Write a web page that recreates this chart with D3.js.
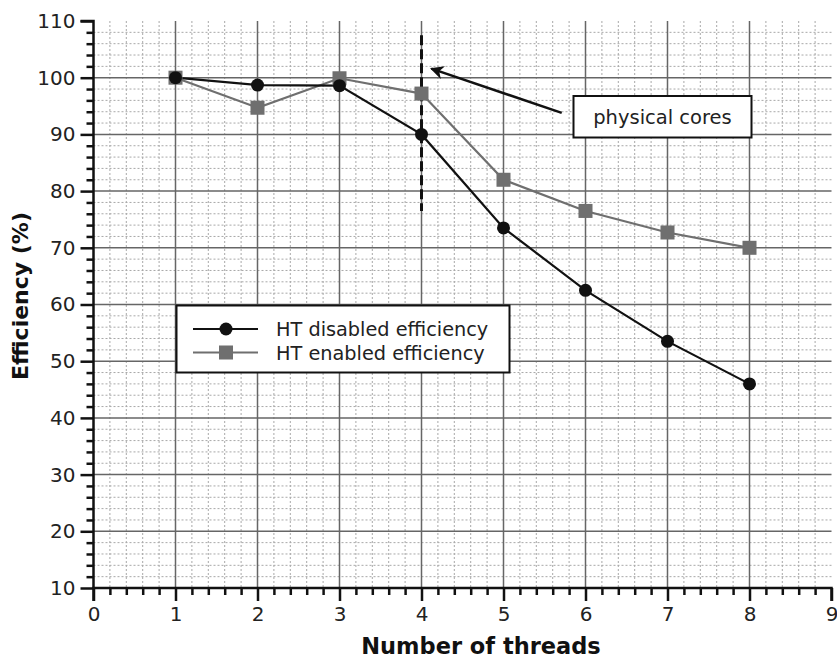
<!DOCTYPE html>
<html>
<head>
<meta charset="utf-8">
<script src="https://cdn.jsdelivr.net/npm/d3@7"></script>
<style>
  body { margin: 0; background: #fff; }
  svg { display: block; font-family: "DejaVu Sans", sans-serif; }
</style>
</head>
<body>
<svg id="chart" width="837" height="661"></svg>
<script>
// ---- data ----
const threads = [1, 2, 3, 4, 5, 6, 7, 8];
const htDisabled = [100, 98.7, 98.6, 90, 73.5, 62.5, 53.5, 46];
const htEnabled = [100, 94.7, 99.9, 97.2, 82, 76.5, 72.7, 70];
const seriesNames = ["HT disabled efficiency", "HT enabled efficiency"];
const xTicks = [0, 1, 2, 3, 4, 5, 6, 7, 8, 9];
const yTicks = [10, 20, 30, 40, 50, 60, 70, 80, 90, 100, 110];
const coresLineX = 4;
const coresLineY = [107.5, 76.5];
const arrowFrom = [5.71, 93.8];
const arrowTo = [4.12, 101.6];
const annotationText = "physical cores";

// ---- layout ----
const svg = d3.select("#chart");
const x = d3.scaleLinear().domain([0, 9]).range([93.5, 831.5]);
const y = d3.scaleLinear().domain([10, 110]).range([588, 21]);

const xMinor = d3.range(0, 9.0001, 0.2).filter(v => Math.abs(v - Math.round(v)) > 1e-6);
const yMinor = d3.range(10, 110.0001, 2).filter(v => v % 10 !== 0);

// minor grid
const grid = svg.append("g");
grid.selectAll(".vmin").data(xMinor).join("line")
  .attr("x1", d => x(d)).attr("x2", d => x(d))
  .attr("y1", y(110)).attr("y2", y(10))
  .attr("stroke", "#a8a8a8").attr("stroke-width", 1).attr("stroke-dasharray", "2,2");
grid.selectAll(".hmin").data(yMinor).join("line")
  .attr("x1", x(0)).attr("x2", x(9))
  .attr("y1", d => y(d)).attr("y2", d => y(d))
  .attr("stroke", "#a8a8a8").attr("stroke-width", 1).attr("stroke-dasharray", "2,2");
// major grid
grid.selectAll(".vmaj").data(xTicks.filter(d => d > 0 && d < 9)).join("line")
  .attr("x1", d => x(d)).attr("x2", d => x(d))
  .attr("y1", y(110)).attr("y2", y(10))
  .attr("stroke", "#666").attr("stroke-width", 1.5);
grid.selectAll(".hmaj").data(yTicks.filter(d => d > 10 && d < 110)).join("line")
  .attr("x1", x(0)).attr("x2", x(9))
  .attr("y1", d => y(d)).attr("y2", d => y(d))
  .attr("stroke", "#666").attr("stroke-width", 1.5);

// axes
const yAxis = svg.append("g").attr("transform", `translate(${x(0)},0)`)
  .call(d3.axisLeft(y).tickValues(yTicks).tickSize(13).tickPadding(5).tickFormat(d3.format("d")));
const yAxisMinor = svg.append("g").attr("transform", `translate(${x(0)},0)`)
  .call(d3.axisLeft(y).tickValues(yMinor).tickSize(7).tickFormat(""));
const xAxis = svg.append("g").attr("transform", `translate(0,${y(10)})`)
  .call(d3.axisBottom(x).tickValues(xTicks).tickSize(13).tickPadding(6).tickFormat(d3.format("d")));
const xAxisMinor = svg.append("g").attr("transform", `translate(0,${y(10)})`)
  .call(d3.axisBottom(x).tickValues(xMinor).tickSize(7).tickFormat(""));
[yAxis, yAxisMinor, xAxis, xAxisMinor].forEach(g => {
  g.select(".domain").attr("stroke", "#111").attr("stroke-width", 2.5);
  g.selectAll(".tick line").attr("stroke", "#111").attr("stroke-width", 2.5);
  g.selectAll(".tick text").attr("font-size", 20).attr("fill", "#222")
    .attr("font-family", "DejaVu Sans, sans-serif");
});
yAxis.select(".domain").attr("d", `M-13,${y(110)}H0V${y(10)}`);
yAxisMinor.select(".domain").remove();
xAxisMinor.select(".domain").remove();
xAxis.select(".domain").attr("d", `M${x(0)},13V0H${x(9)}V13`);

// physical cores dashed line
svg.append("line")
  .attr("x1", x(coresLineX)).attr("x2", x(coresLineX))
  .attr("y1", y(coresLineY[0])).attr("y2", y(coresLineY[1]))
  .attr("stroke", "#111").attr("stroke-width", 3).attr("stroke-dasharray", "10,4");

// series
const line = d3.line().x(d => x(d[0])).y(d => y(d[1]));
const enabledData = threads.map((t, i) => [t, htEnabled[i]]);
const disabledData = threads.map((t, i) => [t, htDisabled[i]]);

svg.append("path").datum(enabledData).attr("d", line)
  .attr("fill", "none").attr("stroke", "#6f6f6f").attr("stroke-width", 2.2);
svg.append("path").datum(disabledData).attr("d", line)
  .attr("fill", "none").attr("stroke", "#111").attr("stroke-width", 2.2);
svg.selectAll(".sq").data(enabledData).join("rect")
  .attr("x", d => x(d[0]) - 7).attr("y", d => y(d[1]) - 7)
  .attr("width", 14).attr("height", 14).attr("fill", "#6f6f6f");
svg.selectAll(".ci").data(disabledData).join("circle")
  .attr("cx", d => x(d[0])).attr("cy", d => y(d[1])).attr("r", 6.5).attr("fill", "#111");

// arrow
svg.append("defs").append("marker")
  .attr("id", "ah").attr("viewBox", "0 0 10 10").attr("refX", 9).attr("refY", 5)
  .attr("markerWidth", 5.5).attr("markerHeight", 5.5).attr("orient", "auto")
  .attr("markerUnits", "strokeWidth")
  .append("path").attr("d", "M0,0L10,5L0,10L3,5Z").attr("fill", "#111");
svg.append("line")
  .attr("x1", x(arrowFrom[0])).attr("y1", y(arrowFrom[1]))
  .attr("x2", x(arrowTo[0])).attr("y2", y(arrowTo[1]))
  .attr("stroke", "#111").attr("stroke-width", 2.5).attr("marker-end", "url(#ah)");

// annotation box
const ann = svg.append("g");
ann.append("rect").attr("x", 573.5).attr("y", 96).attr("width", 178).attr("height", 41.5)
  .attr("fill", "#fff").attr("stroke", "#111").attr("stroke-width", 2);
ann.append("text").attr("x", 662.5).attr("y", 124).attr("text-anchor", "middle")
  .attr("font-size", 19.5).attr("fill", "#222").text(annotationText);

// legend
const leg = svg.append("g");
leg.append("rect").attr("x", 176.5).attr("y", 305.5).attr("width", 333).attr("height", 67)
  .attr("fill", "#fff").attr("stroke", "#111").attr("stroke-width", 2);
const rows = [329, 352.5];
leg.append("line").attr("x1", 193).attr("x2", 258).attr("y1", rows[0]).attr("y2", rows[0])
  .attr("stroke", "#111").attr("stroke-width", 2);
leg.append("circle").attr("cx", 226).attr("cy", rows[0]).attr("r", 6.5).attr("fill", "#111");
leg.append("line").attr("x1", 193).attr("x2", 258).attr("y1", rows[1]).attr("y2", rows[1])
  .attr("stroke", "#6f6f6f").attr("stroke-width", 2);
leg.append("rect").attr("x", 219).attr("y", rows[1] - 7).attr("width", 14).attr("height", 14).attr("fill", "#6f6f6f");
seriesNames.forEach((n, i) => {
  leg.append("text").attr("x", 276).attr("y", rows[i] + 7).attr("font-size", 19.3)
    .attr("fill", "#222").text(n);
});

// axis titles
svg.append("text").attr("x", 481).attr("y", 654).attr("text-anchor", "middle")
  .attr("font-size", 22.5).attr("font-weight", "bold").attr("fill", "#111").text("Number of threads");
svg.append("text").attr("transform", "translate(28,296) rotate(-90)").attr("text-anchor", "middle")
  .attr("font-size", 22).attr("font-weight", "bold").attr("fill", "#111").text("Efficiency (%)");
</script>
</body>
</html>
